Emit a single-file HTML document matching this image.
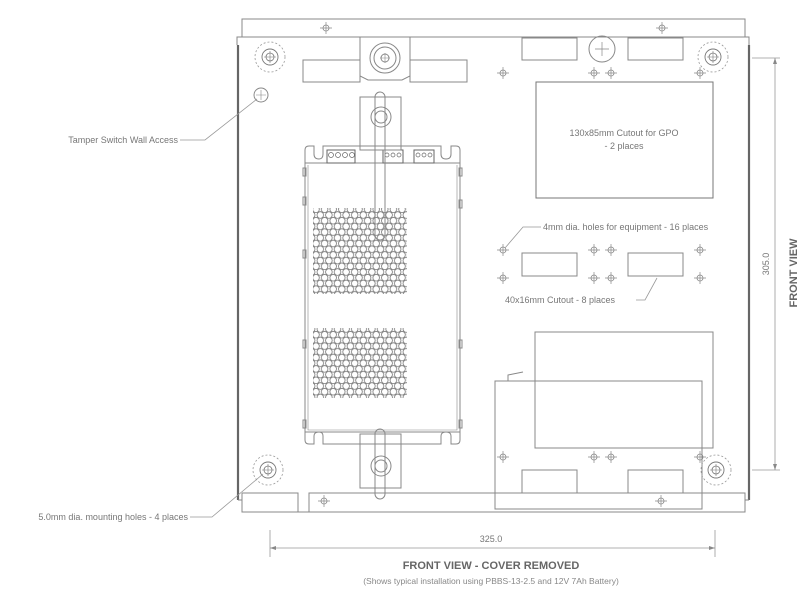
<!DOCTYPE html>
<html><head><meta charset="utf-8"><style>
html,body{margin:0;padding:0;background:#fff;}
svg{display:block;font-family:"Liberation Sans",sans-serif;}
</style></head><body>
<svg width="800" height="597" viewBox="0 0 800 597" xmlns="http://www.w3.org/2000/svg">
<defs>
<pattern id="grill" x="316" y="212" width="8.6" height="11.4" patternUnits="userSpaceOnUse">
<g fill="none" stroke="#777" stroke-width="0.8">
<circle cx="4.3" cy="3" r="3.3"/><circle cx="4.3" cy="14.4" r="3.3"/><circle cx="4.3" cy="-8.4" r="3.3"/>
<circle cx="0" cy="8.7" r="3.3"/><circle cx="8.6" cy="8.7" r="3.3"/><circle cx="0" cy="-2.7" r="3.3"/><circle cx="8.6" cy="-2.7" r="3.3"/>
<circle cx="0" cy="20.1" r="3.3"/><circle cx="8.6" cy="20.1" r="3.3"/>
</g>
</pattern>
<g id="ch"><circle r="3" fill="none" stroke="#888" stroke-width="0.8"/><path d="M-6 0H6M0-6V6" stroke="#888" stroke-width="0.7"/></g>
<g id="mh"><circle r="15" fill="none" stroke="#999" stroke-width="0.8" stroke-dasharray="2,2"/><circle r="8" fill="none" stroke="#777" stroke-width="0.9"/><circle r="4" fill="none" stroke="#777" stroke-width="0.8"/><path d="M-6 0H6M0-6V6" stroke="#777" stroke-width="0.6"/></g>
</defs>
<g fill="none" stroke="#888" stroke-width="1">
<path d="M242 37V19H745V37"/>
<path d="M237 45V37H749V45"/>
<path d="M238 45V500" stroke="#666" stroke-width="2.2"/>
<path d="M749 45V500" stroke="#666" stroke-width="2.2"/>
<path d="M242 493H298V512H242V493M309 512V493H745V512H309" />
<path d="M298 512H309"/>
<path d="M238 500H242M745 500H749"/>
<rect x="303" y="60" width="57" height="22"/>
<rect x="410" y="60" width="57" height="22"/>
<path d="M360 37V76L368 80H402L410 76V37"/>
<circle cx="385" cy="58" r="15"/><circle cx="385" cy="58" r="11"/><circle cx="385" cy="58" r="4"/>
<path d="M385 53V63M380 58H390" stroke-width="0.6"/>
<rect x="522" y="38" width="55" height="22"/>
<rect x="628" y="38" width="55" height="22"/>
<circle cx="602" cy="49" r="13"/><path d="M602 42V56M595 49H609" stroke-width="0.7"/>
<rect x="536" y="82" width="177" height="116" stroke="#777"/>
<rect x="522" y="253" width="55" height="23"/>
<rect x="628" y="253" width="55" height="23"/>
<rect x="535" y="332" width="178" height="116"/>
<rect x="495" y="381" width="207" height="128" fill="none"/>
<path d="M508 381V375L523 372"/>
<rect x="522" y="470" width="55" height="23"/>
<rect x="628" y="470" width="55" height="23"/>
<path d="M305 163V150Q305 146 309 146H314V154Q314 159 319 159Q323 159 323 154V146H441V154Q441 159 446 159Q451 159 451 154V146H456Q460 146 460 150V163"/>
<path d="M305 163V432H460V163H305" />
<path d="M308 165V430H457V165" stroke-width="0.6"/>
<path d="M305 432V440Q305 444 309 444H314V436Q314 432 319 432Q323 432 323 436V444H441V436Q441 432 446 432Q451 432 451 436V444H456Q460 444 460 440V432"/>
<rect x="303" y="168" width="3" height="8"/><rect x="303" y="197" width="3" height="8"/><rect x="303" y="250" width="3" height="8"/><rect x="303" y="340" width="3" height="8"/><rect x="303" y="420" width="3" height="8"/>
<rect x="459" y="168" width="3" height="8"/><rect x="459" y="200" width="3" height="8"/><rect x="459" y="340" width="3" height="8"/><rect x="459" y="420" width="3" height="8"/>
<rect x="327" y="150" width="28" height="13" stroke="#666"/>
<rect x="383" y="150" width="20" height="13" stroke="#666"/>
<rect x="414" y="150" width="20" height="13" stroke="#666"/>
<g stroke="#666" stroke-width="0.7"><circle cx="331" cy="155" r="2.5"/><circle cx="338" cy="155" r="2.5"/><circle cx="345" cy="155" r="2.5"/><circle cx="352" cy="155" r="2.5"/>
<circle cx="387" cy="155" r="2"/><circle cx="393" cy="155" r="2"/><circle cx="399" cy="155" r="2"/>
<circle cx="418" cy="155" r="2"/><circle cx="424" cy="155" r="2"/><circle cx="430" cy="155" r="2"/></g>
<rect x="313" y="208" width="94" height="86" fill="url(#grill)" stroke="none"/>
<rect x="313" y="328" width="94" height="70" fill="url(#grill)" stroke="none"/>
<rect x="360" y="97" width="41" height="53"/>
<rect x="375" y="92" width="10" height="148" rx="5"/>
<circle cx="381" cy="117" r="10"/><circle cx="381" cy="117" r="6"/>
<rect x="360" y="434" width="41" height="54"/>
<rect x="375" y="429" width="10" height="70" rx="5"/>
<circle cx="381" cy="466" r="10"/><circle cx="381" cy="466" r="6"/>
<circle cx="261" cy="95" r="7"/><path d="M261 90V100M256 95H266" stroke-width="0.6"/>
</g>
<use href="#mh" x="270" y="57"/><use href="#mh" x="713" y="57"/><use href="#mh" x="268" y="470"/><use href="#mh" x="716" y="470"/>
<g>
<use href="#ch" x="326" y="28"/><use href="#ch" x="662" y="28"/>
<use href="#ch" x="503" y="73"/><use href="#ch" x="594" y="73"/><use href="#ch" x="611" y="73"/><use href="#ch" x="700" y="73"/>
<use href="#ch" x="503" y="250"/><use href="#ch" x="594" y="250"/><use href="#ch" x="611" y="250"/><use href="#ch" x="700" y="250"/>
<use href="#ch" x="503" y="278"/><use href="#ch" x="594" y="278"/><use href="#ch" x="611" y="278"/><use href="#ch" x="700" y="278"/>
<use href="#ch" x="503" y="457"/><use href="#ch" x="594" y="457"/><use href="#ch" x="611" y="457"/><use href="#ch" x="700" y="457"/>
<use href="#ch" x="324" y="501"/><use href="#ch" x="661" y="501"/>
</g>
<g fill="none" stroke="#999" stroke-width="0.8">
<path d="M180 140H205L257 99"/>
<path d="M190 517H212L263 474"/>
<path d="M541 227H523L505 248"/>
<path d="M636 300H645L657 278"/>
<path d="M270 530V557M715 530V557M270 548H715"/>
<path d="M752 58H780M752 470H780M775 58V470"/>
</g>
<path d="M270 548l6-2v4zM715 548l-6-2v4z" fill="#888"/>
<path d="M775 58l-2 6h4zM775 470l-2-6h4z" fill="#888"/>
<g fill="#777" font-size="9">
<text x="178" y="143" text-anchor="end">Tamper Switch Wall Access</text>
<text x="188" y="520" text-anchor="end">5.0mm dia. mounting holes - 4 places</text>
<text x="624" y="136" text-anchor="middle">130x85mm Cutout for GPO</text>
<text x="624" y="149" text-anchor="middle">- 2 places</text>
<text x="543" y="230">4mm dia. holes for equipment - 16 places</text>
<text x="505" y="303">40x16mm Cutout - 8 places</text>
<text x="491" y="542" text-anchor="middle">325.0</text>
<text transform="translate(769,264) rotate(-90)" text-anchor="middle">305.0</text>
</g>
<text transform="translate(797,273) rotate(-90)" text-anchor="middle" font-size="11" font-weight="bold" fill="#666">FRONT VIEW</text>
<text x="491" y="569" text-anchor="middle" font-size="11" font-weight="bold" fill="#666">FRONT VIEW - COVER REMOVED</text>
<text x="491" y="584" text-anchor="middle" font-size="8.5" fill="#888">(Shows typical installation using PBBS-13-2.5 and 12V 7Ah Battery)</text>
</svg>
</body></html>
